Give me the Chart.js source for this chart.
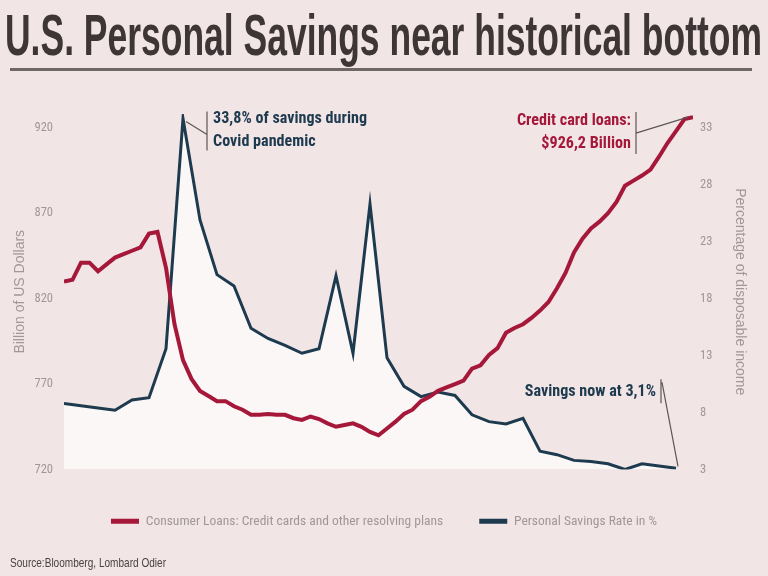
<!DOCTYPE html>
<html>
<head>
<meta charset="utf-8">
<script src="https://cdn.jsdelivr.net/npm/chart.js@4.4.0/dist/chart.umd.min.js"></script>
<style>
html,body{margin:0;padding:0;background:#f2e5e6;}
#wrap{position:relative;width:768px;height:576px;overflow:hidden;background:#f2e5e6;}
#title{position:absolute;left:5px;top:6px;font-family:"Liberation Sans",Arial,sans-serif;font-weight:bold;font-size:58px;line-height:58px;color:#3e3536;white-space:nowrap;transform-origin:0 0;}
#rule{position:absolute;left:10px;top:68px;width:742px;height:3px;background:#6e6667;}
#source{position:absolute;left:10px;top:555px;font-family:"Liberation Sans",Arial,sans-serif;font-size:13px;line-height:16px;color:#4a4142;white-space:nowrap;transform-origin:0 0;}
canvas{position:absolute;left:0;top:0;}
</style>
</head>
<body>
<div id="wrap">
  <canvas id="c" width="768" height="576"></canvas>
  <div id="title">U.S. Personal Savings near historical bottom</div>
  <div id="rule"></div>
  <div id="source">Source:Bloomberg, Lombard Odier</div>
</div>
<script>
// ---- data ----
// x axis tick labels (every 6 months, starting 10.2019)
const tickLabels = ["10.2019","04.2020","10.2020","04.2021","10.2021","04.2022","10.2022"];
const tickMonths = [0, 6, 12, 18, 24, 30, 36];

// Personal savings rate in % (monthly, from 10.2019)
const savingsRate = [8.8, 8.6, 8.4, 8.2, 9.1, 9.3, 13.6, 33.8, 24.9, 20.1, 19.1, 15.4, 14.5,
  13.9, 13.2, 13.6, 20.0, 13.2, 26.3, 12.8, 10.3, 9.4, 9.8, 9.5, 7.8, 7.2, 7.0, 7.5, 4.6,
  4.3, 3.8, 3.7, 3.5, 3.0, 3.5, 3.3, 3.1];

// Consumer loans: credit cards and other revolving plans, bn USD (half-monthly, from 10.2019)
const loanValues = [830, 831, 841, 841, 836, 840, 844, 846, 848, 850, 858, 859, 838, 805, 784,
  773, 766, 763, 760, 760, 757, 755, 752, 752, 752.5, 752, 752, 750, 749, 751, 749.5, 747,
  745, 746, 747, 745, 742, 740, 744, 748, 752.5, 755, 760, 762.5, 766, 768, 770, 772, 779,
  781, 787, 791, 800, 802.8, 805, 808.7, 813, 818, 826, 835, 847, 855, 861, 865, 870, 876.5,
  886, 889, 892, 895.5, 903, 911, 918, 925, 926.2];

const leftTicks = [720, 770, 820, 870, 920];
const rightTicks = [3, 8, 13, 18, 23, 28, 33];

const seriesNames = ["Consumer Loans: Credit cards and other resolving plans", "Personal Savings Rate in %"];
const notes = {
  covid: ["33,8% of savings during", "Covid pandemic"],
  loans: ["Credit card loans:", "$926,2 Billion"],
  now: ["Savings now at 3,1%"]
};

// ---- fonts: prefer an installed condensed face, otherwise size down ----
const mctx = document.createElement('canvas').getContext('2d');
function measure(txt, font) { mctx.font = font; return mctx.measureText(txt).width; }
function hasFont(name) {
  const s = 'abcdefghijklmnopqrstuvwxyzABCDEFGHIJKLM0123456789';
  return measure(s, '40px monospace') !== measure(s, '40px "' + name + '", monospace') ||
         measure(s, '40px serif') !== measure(s, '40px "' + name + '", serif');
}
const candidates = ['Liberation Sans Narrow', 'Arial Narrow', 'Roboto Condensed', 'DejaVu Sans Condensed', 'Open Sans Condensed'];
let FAM = '"Liberation Sans", Arial, sans-serif';
for (const c of candidates) { if (hasFont(c)) { FAM = '"' + c + '", "Liberation Sans", Arial, sans-serif'; break; } }
function sizeFor(txt, target, weight) {
  const w = measure(txt, (weight || '') + ' 20px ' + FAM);
  return Math.max(9, Math.min(15, Math.round(20 * target / w * 2) / 2));
}
const tickSize = sizeFor('10.2019', 41);
const legendSize = sizeFor(seriesNames[0], 296);
const ANN_FONT = 'bold 17px ' + FAM;
const annScale = Math.min(1, 154 / measure(notes.covid[0], ANN_FONT));

const RED = '#a5183a';
const NAVY = '#1d3a4f';
const GRAY = '#a19798';

const loanPoints = loanValues.map((v, i) => ({x: i / 2, y: v}));
const savingsPoints = savingsRate.map((v, i) => ({x: i, y: v}));

function condText(ctx, txt, x, y) {
  ctx.save();
  ctx.translate(x, y);
  ctx.scale(annScale, 1);
  ctx.fillText(txt, 0, 0);
  ctx.restore();
}

const annot = {
  id: 'annot',
  afterDatasetsDraw(chart) {
    const ctx = chart.ctx;
    const xs = chart.scales.x, yl = chart.scales.yL, yr = chart.scales.yR;
    ctx.save();
    ctx.lineWidth = 1.2;
    ctx.strokeStyle = '#5d5556';
    ctx.textBaseline = 'middle';
    ctx.font = ANN_FONT;

    // covid peak
    const pk = savingsRate.indexOf(Math.max(...savingsRate));
    const px = xs.getPixelForValue(pk), py = yr.getPixelForValue(savingsRate[pk]);
    const bx = px + 24;
    ctx.beginPath();
    ctx.moveTo(px + 3, py + 3); ctx.lineTo(bx, py + 16);
    ctx.moveTo(bx, py - 7); ctx.lineTo(bx, py + 32);
    ctx.stroke();
    ctx.fillStyle = NAVY; ctx.textAlign = 'left';
    condText(ctx, notes.covid[0], bx + 6, py);
    condText(ctx, notes.covid[1], bx + 6, py + 23);

    // loans end
    const li = loanPoints.length - 1;
    const lx = xs.getPixelForValue(loanPoints[li].x), ly = yl.getPixelForValue(loanPoints[li].y);
    const lbx = lx - 57;
    ctx.beginPath();
    ctx.moveTo(lx - 5, ly); ctx.lineTo(lbx, ly + 16);
    ctx.moveTo(lbx, ly - 5); ctx.lineTo(lbx, ly + 37);
    ctx.stroke();
    ctx.fillStyle = RED; ctx.textAlign = 'right';
    condText(ctx, notes.loans[0], lbx - 5, ly + 4);
    condText(ctx, notes.loans[1], lbx - 5, ly + 27);

    // savings now
    const si = savingsPoints.length - 1;
    const sx = xs.getPixelForValue(si), sy = yr.getPixelForValue(savingsRate[si]);
    const sbx = sx - 15;
    ctx.beginPath();
    ctx.moveTo(sbx + 1, sy - 86); ctx.lineTo(sx + 2, sy - 2);
    ctx.moveTo(sbx, sy - 89); ctx.lineTo(sbx, sy - 65);
    ctx.stroke();
    ctx.fillStyle = NAVY; ctx.textAlign = 'right';
    condText(ctx, notes.now[0], sbx - 5, sy - 77);
    ctx.restore();
  }
};

new Chart(document.getElementById('c'), {
  type: 'line',
  data: {
    datasets: [
      {
        label: seriesNames[0],
        data: loanPoints,
        yAxisID: 'yL',
        borderColor: RED,
        backgroundColor: RED,
        borderWidth: 4,
        pointRadius: 0,
        tension: 0,
        borderJoinStyle: 'miter',
        fill: false
      },
      {
        label: seriesNames[1],
        data: savingsPoints,
        yAxisID: 'yR',
        borderColor: NAVY,
        backgroundColor: '#fbf7f6',
        borderWidth: 3,
        pointRadius: 0,
        tension: 0,
        fill: 'start'
      }
    ]
  },
  options: {
    responsive: false,
    animation: false,
    devicePixelRatio: 1,
    layout: {padding: {top: 114, bottom: 38, left: 0, right: 0}},
    plugins: {
      legend: {
        position: 'bottom',
        labels: {
          boxWidth: 28,
          boxHeight: 5,
          padding: 36,
          color: GRAY,
          font: {family: FAM, size: legendSize},
          generateLabels(chart) {
            return chart.data.datasets.map((ds, i) => ({
              text: ds.label, fillStyle: ds.borderColor, strokeStyle: ds.borderColor,
              lineWidth: 0, hidden: false, datasetIndex: i, fontColor: GRAY
            }));
          }
        }
      },
      tooltip: {enabled: false}
    },
    scales: {
      x: {
        type: 'linear',
        min: 0,
        max: 37,
        grid: {display: false, drawTicks: false},
        border: {display: false},
        afterBuildTicks(s) { s.ticks = tickMonths.map(v => ({value: v})); },
        afterFit(s) { s.height = 9; },
        ticks: {
          padding: 11,
          maxRotation: 0,
          autoSkip: false,
          color: GRAY,
          font: {family: FAM, size: tickSize},
          callback(v) { const k = tickMonths.indexOf(v); return k >= 0 ? tickLabels[k] : ''; }
        }
      },
      yL: {
        position: 'left',
        min: 720,
        max: 928,
        grid: {display: false, drawTicks: false},
        border: {display: false},
        afterBuildTicks(s) { s.ticks = leftTicks.map(v => ({value: v})); },
        afterFit(s) { s.width = 64; },
        ticks: {padding: 11, color: GRAY, font: {family: FAM, size: tickSize}},
        title: {display: true, text: 'Billion of US Dollars', color: GRAY,
          font: {family: '"Liberation Sans", Arial, sans-serif', size: 14}, padding: {top: 12, bottom: 0}}
      },
      yR: {
        position: 'right',
        min: 3,
        max: 34.2,
        grid: {display: false, drawTicks: false},
        border: {display: false},
        afterBuildTicks(s) { s.ticks = rightTicks.map(v => ({value: v})); },
        afterFit(s) { s.width = 75; },
        ticks: {padding: 7, color: GRAY, font: {family: FAM, size: tickSize}},
        title: {display: true, text: 'Percentage of disposable income', color: GRAY,
          font: {family: '"Liberation Sans", Arial, sans-serif', size: 14}, padding: {top: 20, bottom: 0}}
      }
    }
  },
  plugins: [annot]
});

// fit title and source widths (condensed look)
function fitWidth(id, target) {
  const el = document.getElementById(id);
  const w = el.getBoundingClientRect().width;
  el.style.transform = 'scaleX(' + (target / w) + ')';
}
fitWidth('title', 757);
fitWidth('source', 156);
</script>
</body>
</html>
